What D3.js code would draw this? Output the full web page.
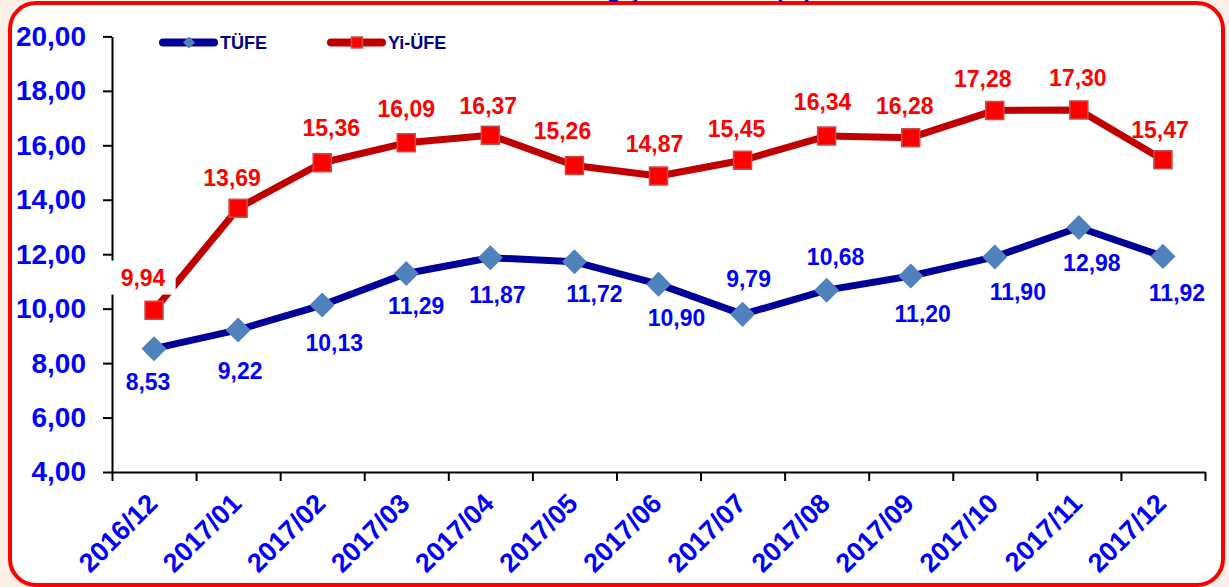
<!DOCTYPE html>
<html>
<head>
<meta charset="utf-8">
<script src="https://cdn.jsdelivr.net/npm/d3@7/dist/d3.min.js"></script>
<style>
    body { margin: 0; background: #fbefe6; }
    svg { display: block; }
</style>
</head>
<body>
<svg id="line_chart"></svg>
<script>
// values
let months = ["2016/12", "2017/01", "2017/02", "2017/03", "2017/04", "2017/05", "2017/06",
              "2017/07", "2017/08", "2017/09", "2017/10", "2017/11", "2017/12"];
let tufe   = [8.53, 9.22, 10.13, 11.29, 11.87, 11.72, 10.90, 9.79, 10.68, 11.20, 11.90, 12.98, 11.92];
let yiufe  = [9.94, 13.69, 15.36, 16.09, 16.37, 15.26, 14.87, 15.45, 16.34, 16.28, 17.28, 17.30, 15.47];
let yTicks = [4, 6, 8, 10, 12, 14, 16, 18, 20];
let seriesNames = ["TÜFE", "Yi-ÜFE"];
let title = "TÜFE ve Yİ-ÜFE Yıllık Değişim Oranları (%)";

// label offsets from the point (px), as placed in the original
let tufeLabelDx  = [-6, 2, 12, 10, 7, 20, 18, 6, 9, 12, 23, 13, 14];
let tufeLabelDy  = [33, 41, 38, 32, 37, 32, 34, -36, -33, 38, 35, 35, 36];
let yiufeLabelDx = [-11, -6, 9, 0, -2, -12, -4, -6, -4, -6, -12, -1, -3];
let yiufeLabelDy = [-33, -30, -35, -34, -30, -35, -32, -32, -34, -32, -32, -32, -30];

let width = 1229
let height = 587
let plot = {left: 112, right: 1205, top: 36.4, bottom: 472}

let fmt = d => d.toFixed(2).replace(".", ",");

let svg = d3.select("#line_chart")
    .attr("width", width)
    .attr("height", height)
    .style("font-family", "'Liberation Sans', Arial, sans-serif")
    .style("font-weight", "bold");

// frame
svg.append("rect")
    .attr("x", 10)
    .attr("y", 3)
    .attr("width", 1213)
    .attr("height", 582)
    .attr("rx", 26)
    .attr("fill", "white")
    .attr("stroke", "#ff0000")
    .attr("stroke-width", 4);

// title, mostly cut off above the frame (as in the original)
svg.append("text")
    .text(title)
    .attr("x", 812)
    .attr("y", -3)
    .attr("text-anchor", "end")
    .attr("font-size", 24)
    .attr("fill", "#0000cc");

let xScale = d3.scaleBand()
    .domain(months)
    .range([plot.left, plot.right])
    .padding(0);

let xEdge = d3.scaleLinear()
    .domain([0, months.length])
    .range([plot.left, plot.right]);

let yScale = d3.scaleLinear()
    .domain([4, 20])
    .range([plot.bottom, plot.top]);

let cx = (d, i) => xScale(months[i]) + xScale.bandwidth() / 2;

// x axis: ticks between categories
let xAxis = svg.append("g")
    .attr("id", "line_chart_x_axis")
    .attr("transform", "translate(0," + plot.bottom + ")")
    .call(d3.axisBottom(xEdge)
        .tickValues(d3.range(months.length + 1))
        .tickFormat("")
        .tickSize(9)
        .tickSizeOuter(0));

xAxis.selectAll("path, line")
    .attr("stroke", "black")
    .attr("stroke-width", 2);

svg.append("g")
    .attr("id", "x_labels")
    .selectAll("text")
    .data(months)
    .join("text")
    .text(d => d)
    .attr("transform", d => "translate(" + (xScale(d) + xScale.bandwidth() / 2 + 5) + "," + 505 + ") rotate(-45)")
    .attr("text-anchor", "end")
    .attr("font-size", 27)
    .attr("fill", "#0000ff");

// y axis
let yAxis = svg.append("g")
    .attr("id", "line_chart_y_axis")
    .attr("transform", "translate(" + plot.left + ",0)")
    .call(d3.axisLeft(yScale)
        .tickValues(yTicks)
        .tickFormat(fmt)
        .tickSize(9)
        .tickPadding(17)
        .tickSizeOuter(0));

yAxis.selectAll("path, line")
    .attr("stroke", "black")
    .attr("stroke-width", 2);

yAxis.selectAll("text")
    .attr("font-size", 28)
    .attr("font-family", "'Liberation Sans', Arial, sans-serif")
    .attr("font-weight", "bold")
    .attr("fill", "#0000ff");

// lines
let line = d3.line()
    .x((d, i) => cx(d, i))
    .y(d => yScale(d));

let plotG = svg.append("g").attr("id", "line_chart_plot");

plotG.append("path")
    .datum(tufe)
    .attr("d", line)
    .attr("fill", "none")
    .attr("stroke", "#000099")
    .attr("stroke-width", 7)
    .attr("stroke-linejoin", "round");

plotG.append("path")
    .datum(yiufe)
    .attr("d", line)
    .attr("fill", "none")
    .attr("stroke", "#c00000")
    .attr("stroke-width", 7)
    .attr("stroke-linejoin", "round");

// data labels; only the first red one sits on a white box that hides the axis
function addLabels(values, dx, dy, color, boxed) {
    let g = svg.append("g");
    values.forEach(function(v, i) {
        let lg = g.append("g");
        let t = lg.append("text")
            .text(fmt(v))
            .attr("x", cx(v, i) + dx[i])
            .attr("y", yScale(v) + dy[i])
            .attr("dy", "0.36em")
            .attr("text-anchor", "middle")
            .attr("font-size", 23)
            .attr("fill", color);
        if (boxed.includes(i)) {
            let b = t.node().getBBox();
            lg.insert("rect", "text")
                .attr("x", b.x - 10)
                .attr("y", b.y - 4)
                .attr("width", b.width + 20)
                .attr("height", b.height + 8)
                .attr("fill", "white");
        }
    });
}

addLabels(tufe, tufeLabelDx, tufeLabelDy, "#0000ff", []);
addLabels(yiufe, yiufeLabelDx, yiufeLabelDy, "#ff0000", [0]);

// markers
let diamond = d3.symbol().type(d3.symbolSquare).size(313);
let square = d3.symbol().type(d3.symbolSquare).size(324);

svg.append("g")
    .selectAll("path")
    .data(tufe)
    .join("path")
    .attr("d", diamond)
    .attr("transform", (d, i) => "translate(" + cx(d, i) + "," + yScale(d) + ") rotate(45)")
    .attr("fill", "#4f81bd");

svg.append("g")
    .selectAll("path")
    .data(yiufe)
    .join("path")
    .attr("d", square)
    .attr("transform", (d, i) => "translate(" + cx(d, i) + "," + yScale(d) + ")")
    .attr("fill", "#ff0000")
    .attr("stroke", "#c0504d")
    .attr("stroke-width", 1.5);

// legend
let legend = svg.append("g").attr("id", "legend");
let legendX = [160, 328];
let legendColors = ["#000099", "#c00000"];

seriesNames.forEach(function(name, i) {
    let x0 = legendX[i];
    legend.append("line")
        .attr("x1", x0 + 3)
        .attr("x2", x0 + 54)
        .attr("y1", 42.5)
        .attr("y2", 42.5)
        .attr("stroke", legendColors[i])
        .attr("stroke-width", 8)
        .attr("stroke-linecap", "round");
    if (i == 0) {
        legend.append("path")
            .attr("d", d3.symbol().type(d3.symbolSquare).size(72))
            .attr("transform", "translate(" + (x0 + 29) + ",42.5) rotate(45)")
            .attr("fill", "#4f81bd");
    } else {
        legend.append("path")
            .attr("d", d3.symbol().type(d3.symbolSquare).size(121))
            .attr("transform", "translate(" + (x0 + 29) + ",42.5)")
            .attr("fill", "#ff0000")
            .attr("stroke", "#c0504d")
            .attr("stroke-width", 1.5);
    }
    legend.append("text")
        .text(name)
        .attr("x", x0 + 60)
        .attr("y", 49)
        .attr("font-size", 18)
        .attr("fill", "#000080");
});
</script>
</body>
</html>
